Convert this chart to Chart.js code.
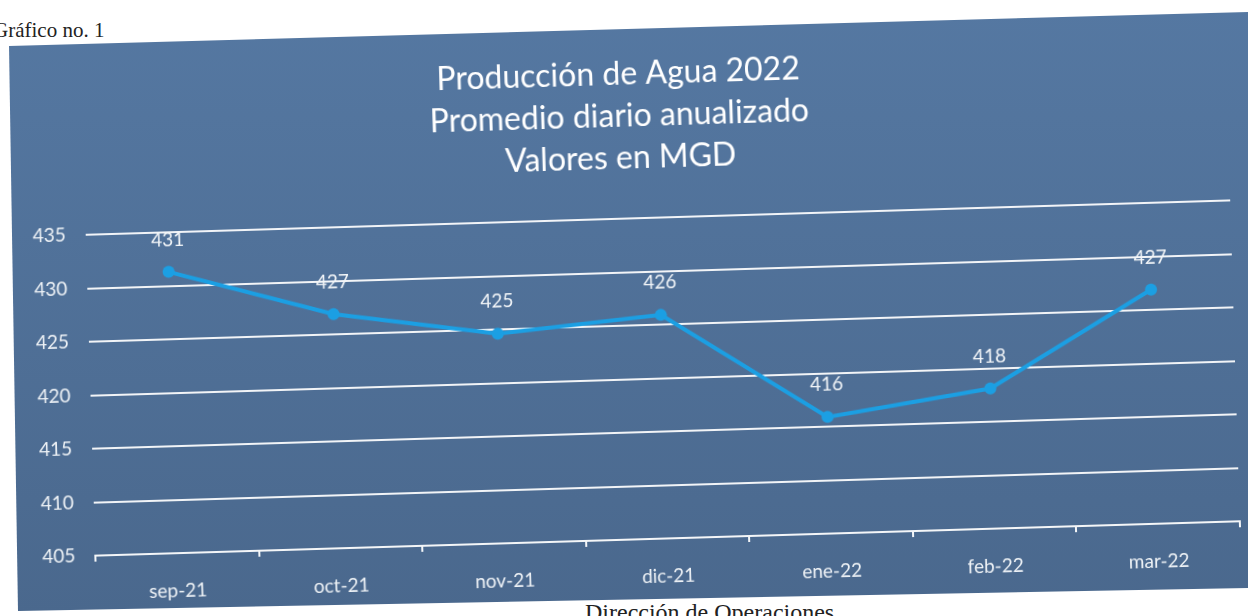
<!DOCTYPE html>
<html><head><meta charset="utf-8">
<script src="https://cdn.jsdelivr.net/npm/chart.js@4.4.1/dist/chart.umd.min.js"></script>
<style>
html,body{margin:0;padding:0;background:#fff;width:1248px;height:616px;overflow:hidden;position:relative}
#cap{position:absolute;left:-7px;top:18px;font:21px "Liberation Serif",serif;color:#222;white-space:nowrap}
#foot{position:absolute;left:585px;top:599px;font:24px "Liberation Serif",serif;color:#222;white-space:nowrap}
#bg{position:absolute;left:0;top:0;width:1248px;height:616px;background:linear-gradient(#5578a2,#4a688d);clip-path:polygon(9px 46px,1248px 12px,1248px 588px,18px 611px)}
#panel{position:absolute;left:9px;top:46px;width:1238px;height:563px;transform-origin:0 0;transform:rotate(-1.72deg)}
#panel canvas{display:block}
</style></head>
<body>
<div id="cap">Gráfico no. 1</div>
<div id="foot">Dirección de Operaciones</div>
<div id="bg"></div>
<div id="panel"><canvas id="c" width="1238" height="563"></canvas></div>
<script>
const categories = ['sep-21','oct-21','nov-21','dic-21','ene-22','feb-22','mar-22'];
const produccion = [431.3, 426.9, 424.6, 425.9, 415.9, 418.1, 426.9];
const yMin = 405, yMax = 435, yStep = 5;
const titleLines = ['Producción de Agua 2022','Promedio diario anualizado','Valores en MGD'];

const pointLabels = {
  id: 'pointLabels',
  afterDatasetsDraw(chart) {
    const meta = chart.getDatasetMeta(0);
    const ctx = chart.ctx;
    ctx.save();
    ctx.font = '19px Lato';
    ctx.fillStyle = '#f2f5f8';
    ctx.textAlign = 'center';
    ctx.textBaseline = 'middle';
    meta.data.forEach((pt, i) => {
      ctx.fillText(String(Math.round(produccion[i])), pt.x, pt.y - 32);
    });
    ctx.restore();
  }
};

new Chart(document.getElementById('c'), {
  type: 'line',
  data: {
    labels: categories,
    datasets: [{
      data: produccion,
      borderColor: '#1b9fe3',
      backgroundColor: '#1b9fe3',
      borderWidth: 4,
      pointRadius: 6,
      pointBackgroundColor: '#1b9fe3',
      pointBorderWidth: 0,
      tension: 0
    }]
  },
  options: {
    responsive: false,
    animation: false,
    layout: { padding: { left: 0, right: 22, top: 0, bottom: 0 } },
    plugins: {
      legend: { display: false },
      tooltip: { enabled: false },
      title: {
        display: true,
        text: titleLines,
        color: '#ffffff',
        font: { family: 'Lato', size: 32, weight: 'normal', lineHeight: 1.3125 },
        padding: { top: 25.6, bottom: 39.4 }
      }
    },
    scales: {
      x: {
        offset: true,
        grid: { display: true, drawOnChartArea: false, offset: true, color: '#f4f6f8', lineWidth: 2, tickLength: 6 },
        border: { display: true, color: '#f4f6f8', width: 2 },
        ticks: { color: '#eef2f6', font: { family: 'Lato', size: 19 }, padding: 20, maxRotation: 0 },
        afterFit(scale) { scale.height = 51; }
      },
      y: {
        min: yMin, max: yMax,
        ticks: { stepSize: yStep, color: '#eef2f6', font: { family: 'Lato', size: 19 }, padding: 20 },
        grid: { color: 'rgba(255,255,255,0.92)', lineWidth: 2, drawTicks: false },
        border: { display: false },
        afterFit(scale) { scale.width = 71; }
      }
    }
  },
  plugins: [pointLabels]
});
</script>
</body></html>
